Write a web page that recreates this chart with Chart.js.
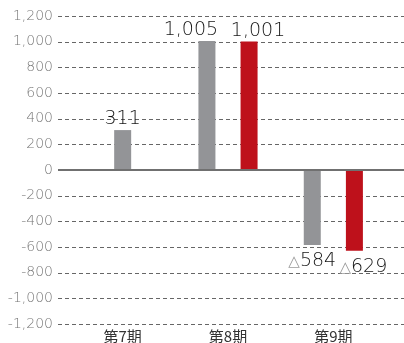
<!DOCTYPE html>
<html>
<head>
<meta charset="utf-8">
<script src="https://cdn.jsdelivr.net/npm/chart.js@4/dist/chart.umd.min.js"></script>
<style>
  html, body { margin: 0; padding: 0; background: #fff; overflow: hidden; }
  canvas { display: block; }
</style>
</head>
<body>
<canvas id="chart" width="404" height="343"></canvas>
<script>
// ----------- DATA -----------
const categories = ['第7期', '第8期', '第9期'];
const greyValues = [311, 1005, -584];
const redValues = [null, 1001, -629];
const yMin = -1200;
const yMax = 1200;
const yStep = 200;

const GREY = '#939497';
const RED = '#be111b';

// label nudges so paired labels don't collide (grey, red)
const labelShiftPos = [-16, 9];
const labelShiftNeg = [0, 9];

function fmt(v) {
  return Math.abs(v).toLocaleString('en-US');
}

// ----------- PLUGINS -----------
// dashed guide lines run past the plot on both sides, zero line stays solid
const guideLines = {
  id: 'guideLines',
  beforeDatasetsDraw(chart) {
    const { ctx, scales: { y } } = chart;
    ctx.save();
    ctx.strokeStyle = '#666';
    ctx.lineWidth = 1;
    ctx.setLineDash([4, 3]);
    y.ticks.forEach(t => {
      if (t.value === 0) return;
      const py = Math.round(y.getPixelForValue(t.value)) + 0.5;
      ctx.beginPath();
      ctx.moveTo(58, py);
      ctx.lineTo(404, py);
      ctx.stroke();
    });
    ctx.restore();
  },
  afterDatasetsDraw(chart) {
    const { ctx, scales: { y } } = chart;
    const py = Math.round(y.getPixelForValue(0));
    ctx.save();
    ctx.strokeStyle = '#707070';
    ctx.lineWidth = 2;
    ctx.beginPath();
    ctx.moveTo(58, py);
    ctx.lineTo(404, py);
    ctx.stroke();
    ctx.restore();
  }
};

const valueLabels = {
  id: 'valueLabels',
  afterDatasetsDraw(chart) {
    const { ctx } = chart;
    const numFont = '200 19px "DejaVu Sans"';
    ctx.save();
    chart.data.datasets.forEach((ds, i) => {
      const meta = chart.getDatasetMeta(i);
      meta.data.forEach((bar, j) => {
        const v = ds.data[j];
        if (v === null || v === undefined) return;
        const paired = chart.data.datasets.every(d => d.data[j] !== null);
        const num = fmt(v);
        ctx.font = numFont;
        const numW = ctx.measureText(num).width;
        if (v >= 0) {
          const x = bar.x + (paired ? labelShiftPos[i] : 0);
          ctx.fillStyle = '#151515';
          ctx.textAlign = 'center';
          ctx.textBaseline = 'alphabetic';
          ctx.fillText(num, x, bar.y - 6);
        } else {
          ctx.font = '15px "DejaVu Sans"';
          const triW = ctx.measureText('△').width;
          const total = triW + numW;
          const left = bar.x + (paired ? labelShiftNeg[i] : 0) - total / 2;
          const base = bar.y + 21;
          ctx.textAlign = 'left';
          ctx.textBaseline = 'alphabetic';
          ctx.fillStyle = '#9a9a9a';
          ctx.fillText('△', left, base);
          ctx.font = numFont;
          ctx.fillStyle = '#151515';
          ctx.fillText(num, left + triW, base);
        }
      });
    });
    ctx.restore();
  }
};

// ----------- CHART -----------
new Chart(document.getElementById('chart'), {
  type: 'bar',
  data: {
    labels: categories,
    datasets: [
      { data: greyValues, backgroundColor: GREY },
      { data: redValues, backgroundColor: RED }
    ]
  },
  options: {
    responsive: false,
    animation: false,
    devicePixelRatio: 1,
    skipNull: true,
    categoryPercentage: 0.8,
    barPercentage: 0.45,
    maxBarThickness: 17,
    layout: { padding: { top: 16, right: 18, left: 0, bottom: 0 } },
    plugins: {
      legend: { display: false },
      tooltip: { enabled: false }
    },
    scales: {
      x: {
        grid: { display: false, drawTicks: false },
        border: { display: false },
        ticks: {
          color: '#333',
          padding: 3,
          font: { family: '"Noto Sans CJK JP"', size: 15, weight: '400' }
        },
        afterFit(scale) {
          scale.height = 19;
          scale.paddingLeft = 0;
          scale.paddingRight = 0;
        }
      },
      y: {
        min: yMin,
        max: yMax,
        grid: { display: false, drawTicks: false },
        border: { display: false },
        ticks: {
          stepSize: yStep,
          color: '#777',
          padding: 17,
          font: { family: '"DejaVu Sans"', size: 14, weight: '200' },
          callback: v => (v < 0 ? '-' : '') + Math.abs(v).toLocaleString('en-US')
        },
        afterFit(scale) {
          scale.width = 70;
          scale.paddingTop = 0;
          scale.paddingBottom = 0;
        }
      }
    }
  },
  plugins: [guideLines, valueLabels]
});
</script>
</body>
</html>
